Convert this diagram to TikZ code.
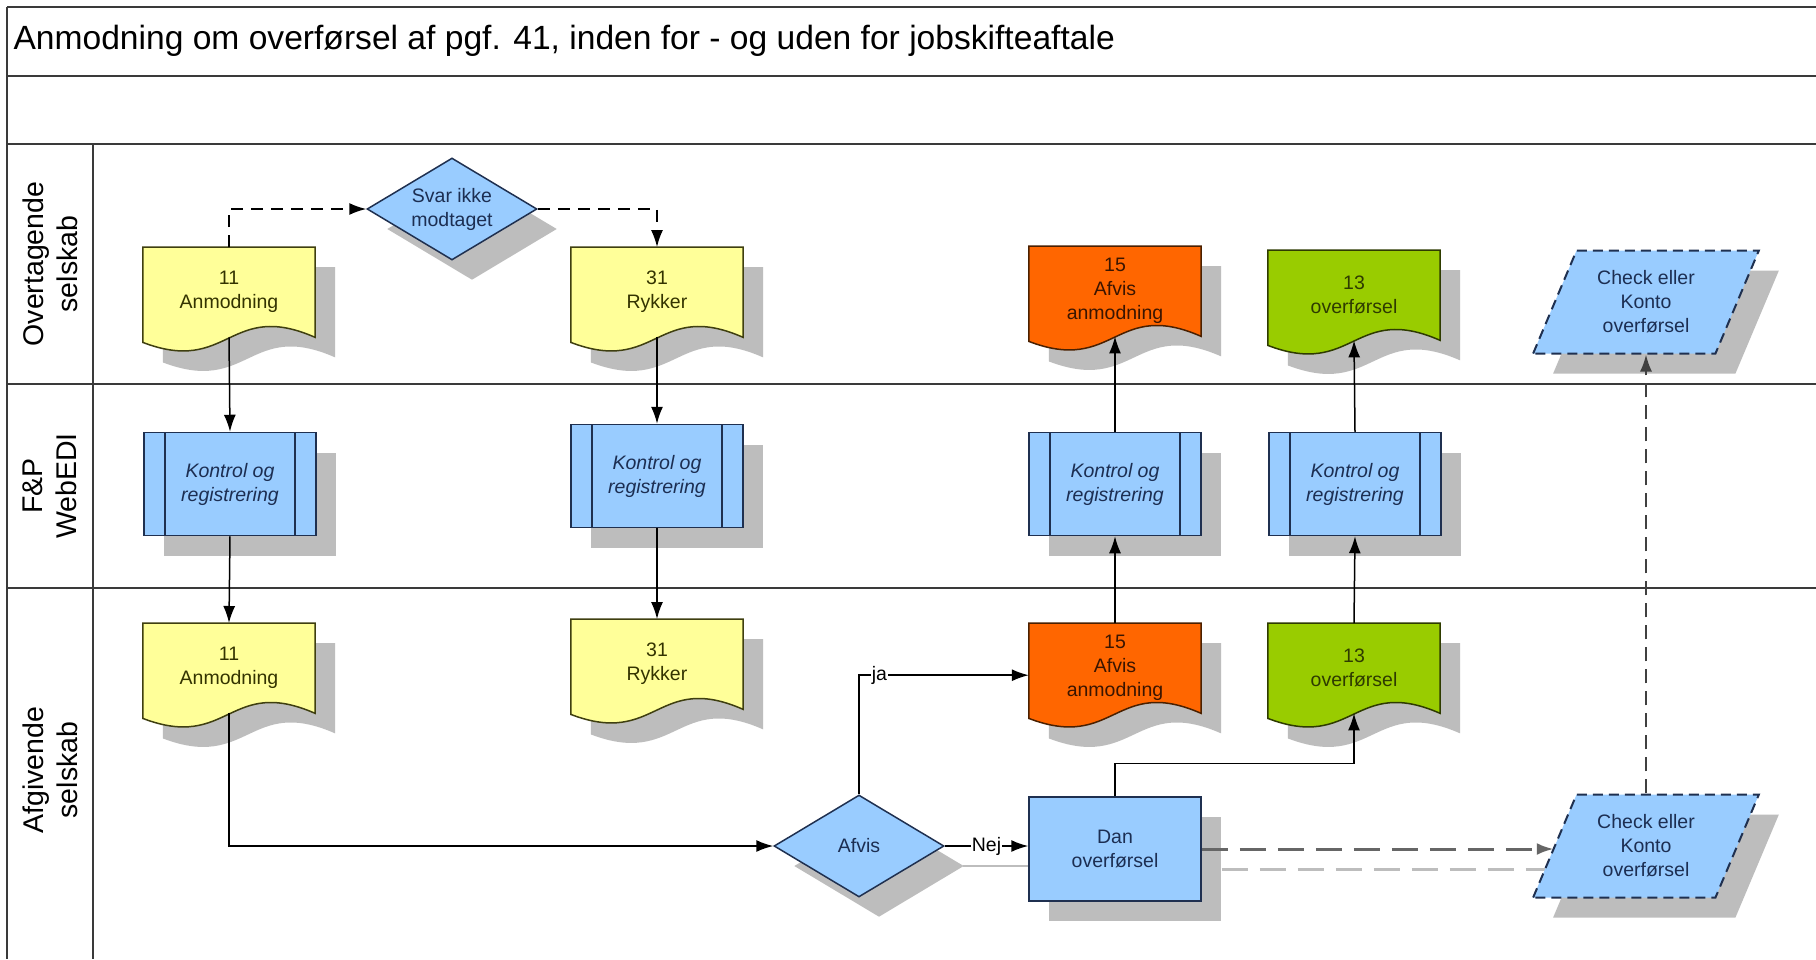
\documentclass[tikz,border=0pt]{standalone}
\usepackage{fontspec}
\setmainfont{Liberation Sans}
\usepackage{tikz}
\usetikzlibrary{shapes.geometric,shadows,backgrounds,arrows.meta,calc}

\definecolor{bluefill}{HTML}{99CCFF}
\definecolor{blueline}{HTML}{1F3050}
\definecolor{bluetext}{HTML}{1C2E52}
\definecolor{yellowfill}{HTML}{FFFF99}
\definecolor{yellowline}{HTML}{3F3F10}
\definecolor{yellowtext}{HTML}{333300}
\definecolor{orangefill}{HTML}{FF6600}
\definecolor{orangeline}{HTML}{4A2000}
\definecolor{orangetext}{HTML}{3A1500}
\definecolor{greenfill}{HTML}{99CC00}
\definecolor{greenline}{HTML}{2E3B00}
\definecolor{greentext}{HTML}{2E3B00}
\definecolor{shadowgray}{HTML}{BDBDBD}
\definecolor{laneline}{HTML}{3A3A3A}

% document with wavy bottom, drawn behind the named node
\newcommand{\docshape}[3]{%
  \begin{scope}[on background layer]
    \fill[shadowgray,transform canvas={shift={(20pt,-20pt)}}] (#1.north west) -- (#1.north east) -- (#1.south east)
      .. controls ($(#1.south)+(0,-38)$) and ($(#1.south)+(0,38)$) .. ($(#1.south west)+(0,5)$) -- cycle;
    \filldraw[fill=#2,draw=#3,line width=1.5pt] (#1.north west) -- (#1.north east) -- (#1.south east)
      .. controls ($(#1.south)+(0,-38)$) and ($(#1.south)+(0,38)$) .. ($(#1.south west)+(0,5)$) -- cycle;
  \end{scope}}

\begin{document}
\begin{tikzpicture}[x=1pt,y=-1pt,
    >={Latex[length=17pt,width=12pt]},
    every node/.style={font=\fontsize{19.5}{24}\selectfont},
    shade/.style={drop shadow={shadow xshift=20pt,shadow yshift=-20pt,fill=shadowgray,opacity=1}},
    lane/.style={draw=laneline,line width=2.5pt},
    lanelabel/.style={rotate=90,align=center,font=\fontsize{28.5}{34}\selectfont},
    doc/.style={minimum width=172pt,minimum height=90pt,inner sep=0pt,anchor=north,align=center},
    proc/.style={draw=blueline,fill=bluefill,text=bluetext,line width=1.5pt,shade,
      minimum width=172pt,minimum height=103pt,align=center,
      font=\fontsize{19.5}{24}\selectfont\itshape,
      path picture={\draw[blueline,line width=1.5pt]
        ([xshift=21pt]path picture bounding box.north west) -- ([xshift=21pt]path picture bounding box.south west)
        ([xshift=-21pt]path picture bounding box.north east) -- ([xshift=-21pt]path picture bounding box.south east);}},
    task/.style={draw=blueline,fill=bluefill,text=bluetext,line width=1.5pt,shade,
      minimum width=172pt,minimum height=104pt,align=center},
    decision/.style={diamond,aspect=1.67,draw=blueline,fill=bluefill,text=bluetext,line width=1.5pt,shade,
      minimum width=170pt,minimum height=102pt,inner sep=0pt,align=center},
    io/.style={trapezium,trapezium left angle=64,trapezium right angle=116,trapezium stretches=true,
      draw=blueline,fill=bluefill,text=bluetext,line width=2pt,dash pattern=on 10pt off 6pt,shade,
      minimum width=226pt,minimum height=103pt,inner sep=0pt,align=center},
    conn/.style={draw=black,line width=1.5pt},
    lbl/.style={fill=white,inner sep=1pt}]

  \begin{scope}[on background layer]
    \fill[white] (0,0) rectangle (1816,959);
  \end{scope}
  \useasboundingbox (0,0) rectangle (1816,959);

  % pool and lanes
  \foreach \y in {7,76,144,384,588}
    \draw[lane] (7,\y) -- (1816,\y);
  \draw[lane] (7,7) -- (7,959);
  \draw[lane] (93,144) -- (93,959);

  \node[anchor=west,font=\fontsize{33.6}{40}\selectfont] (title) at (10,41)
    {Anmodning om overførsel af pgf. 41, inden for - og uden for jobskifteaftale};

  \node[lanelabel] (lane1) at (50,264) {Overtagende\\selskab};
  \node[lanelabel] (lane2) at (50,486) {F\&P\\WebEDI};
  \node[lanelabel] (lane3) at (50,770) {Afgivende\\selskab};

  % Overtagende selskab
  \node[doc,text=yellowtext] (a1) at (229,247) {11\\Anmodning};
  \node[doc,text=yellowtext] (r1) at (657,247) {31\\Rykker};
  \node[doc,text=orangetext] (o1) at (1115,246) {15\\Afvis\\anmodning};
  \node[doc,text=greentext] (g1) at (1354,250) {13\\overførsel};
  \node[decision] (svar) at (452,209) {Svar ikke\\modtaget};
  \node[io] (c1) at (1646,302) {Check eller\\Konto\\overførsel};
  \docshape{a1}{yellowfill}{yellowline}
  \docshape{r1}{yellowfill}{yellowline}
  \docshape{o1}{orangefill}{orangeline}
  \docshape{g1}{greenfill}{greenline}

  % F&P WebEDI
  \node[proc] (k1) at (230,484) {Kontrol og\\registrering};
  \node[proc] (k2) at (657,476) {Kontrol og\\registrering};
  \node[proc] (k3) at (1115,484) {Kontrol og\\registrering};
  \node[proc] (k4) at (1355,484) {Kontrol og\\registrering};

  % Afgivende selskab
  \node[doc,text=yellowtext] (a3) at (229,623) {11\\Anmodning};
  \node[doc,text=yellowtext] (r3) at (657,619) {31\\Rykker};
  \node[doc,text=orangetext] (o3) at (1115,623) {15\\Afvis\\anmodning};
  \node[doc,text=greentext] (g3) at (1354,623) {13\\overførsel};
  \node[decision] (afvis) at (859,846) {Afvis};
  \node[task] (dan) at (1115,849) {Dan\\overførsel};
  \node[io] (c3) at (1646,846) {Check eller\\Konto\\overførsel};
  \docshape{a3}{yellowfill}{yellowline}
  \docshape{r3}{yellowfill}{yellowline}
  \docshape{o3}{orangefill}{orangeline}
  \docshape{g3}{greenfill}{greenline}

  \begin{scope}[on background layer]
    \draw[shadowgray,line width=2pt] ([shift={(18,20)}]afvis.east) -- ([shift={(0,20)}]afvis.east -| dan.west);
    \draw[shadowgray,line width=3pt,dash pattern=on 26pt off 12pt] ([shift={(20,20)}]dan.east) -- ([shift={(10,20)}]dan.east -| c3.west);
  \end{scope}

  % connectors
  \draw[conn,->] (a1.south) -- (k1.north);
  \draw[conn,->] (k1.south) -- (a3.north);
  \draw[conn,->] (r1.south) -- (k2.north);
  \draw[conn,->] (k2.south) -- (r3.north);
  \draw[conn,->] (o3.north) -- (k3.south);
  \draw[conn,->] (k3.north) -- (o1.south);
  \draw[conn,->] (g3.north) -- (k4.south);
  \draw[conn,->] (k4.north) -- (g1.south);
  \draw[conn,dash pattern=on 12pt off 8pt,->] (a1.north) |- (svar.west);
  \draw[conn,dash pattern=on 12pt off 8pt,->] (svar.east) -| (r1.north);
  \draw[conn,->] (a3.south) |- (afvis.west);
  \draw[conn,->] (afvis.north) |- node[pos=0.56,lbl] {ja} ([yshift=-7pt]o3.west);
  \draw[conn,->] (afvis.east) -- node[lbl] {Nej} (afvis.east -| dan.west);
  \draw[conn,->] (dan.north) -- ++(0,-33) -| (g3.south);
  \draw[draw=black!60,line width=3pt,dash pattern=on 26pt off 12pt,->] (dan.east) -- (dan.east -| c3.west);
  \draw[draw=black!75,line width=2pt,dash pattern=on 14pt off 8pt,->] (c3.center |- c3.north) -- (c1.center |- c1.south);
\end{tikzpicture}
\end{document}
